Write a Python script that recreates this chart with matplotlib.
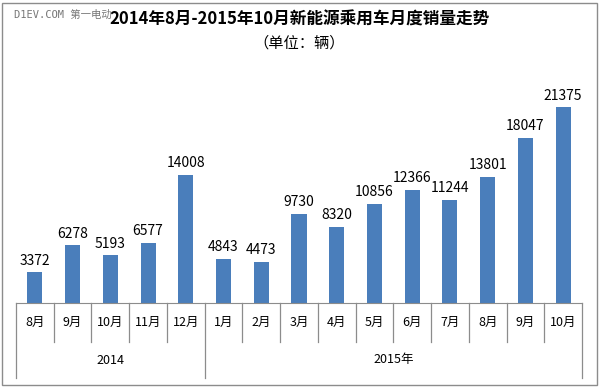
import matplotlib.pyplot as plt
from matplotlib.patches import Rectangle

plt.rcParams['font.family'] = ['Noto Sans CJK SC', 'DejaVu Sans']

# monthly sales, Aug 2014 - Oct 2015
months = ['8月', '9月', '10月', '11月', '12月',
          '1月', '2月', '3月', '4月', '5月', '6月', '7月', '8月', '9月', '10月']
sales = [3372, 6278, 5193, 6577, 14008,
         4843, 4473, 9730, 8320, 10856, 12366, 11244, 13801, 18047, 21375]
years = ['2014', '2015年']
year_counts = [5, 10]

W, H = 601, 387
fig = plt.figure(figsize=(W / 100, H / 100), dpi=100)

# axes placed in pixel terms
x0, x1, ybase, ytop = 16, 582, 303, 74
ax = fig.add_axes([x0 / W, (H - ybase) / H, (x1 - x0) / W, (ybase - ytop) / H])

xs = list(range(len(months)))
ax.bar(xs, sales, width=0.4, color='#4A7EBB')
for x, v in zip(xs, sales):
    ax.text(x, v + 500, str(v), ha='center', va='bottom', fontsize=10, color='black')

ax.set_xlim(-0.5, len(months) - 0.5)
ax.set_ylim(0, 25000)
ax.set_xticks([])
ax.set_yticks([])
for s in ['left', 'right', 'top']:
    ax.spines[s].set_visible(False)
ax.spines['bottom'].set_color('#8c8c8c')

# category axis grid (months and years)
tr = ax.get_xaxis_transform()
short_y = -(342 - ybase) / (ybase - ytop)
long_y = -(378 - ybase) / (ybase - ytop)
month_y = -(322 - ybase) / (ybase - ytop)
year_y = -(360 - ybase) / (ybase - ytop)

bounds = [-0.5]
for c in year_counts:
    bounds.append(bounds[-1] + c)

for i in range(len(months) + 1):
    b = i - 0.5
    yb = long_y if b in bounds else short_y
    ax.plot([b, b], [0, yb], color='#8c8c8c', lw=0.9, transform=tr, clip_on=False)

for x, m in zip(xs, months):
    ax.text(x, month_y, m, ha='center', va='center', fontsize=9, transform=tr)

for k, y in enumerate(years):
    mid = (bounds[k] + bounds[k + 1]) / 2
    ax.text(mid, year_y, y, ha='center', va='center', fontsize=9, transform=tr)

# titles
fig.text(299 / W, 1 - 20 / H, '2014年8月-2015年10月新能源乘用车月度销量走势',
         ha='center', va='center', fontsize=12, fontweight='bold')
fig.text(299 / W, 1 - 43 / H, '（单位：辆）', ha='center', va='center', fontsize=11)
fig.text(14 / W, 1 - 15 / H, 'D1EV.COM 第一电动', ha='left', va='center', fontsize=7.5,
         color='#777777', family=['DejaVu Sans Mono', 'Noto Sans CJK SC'])

# outer border
fig.patches.append(Rectangle((2 / W, 2 / H), 595 / W, 382 / H, transform=fig.transFigure,
                             fill=False, edgecolor='#8c8c8c', lw=1))

fig.savefig('out.png', dpi=100)
